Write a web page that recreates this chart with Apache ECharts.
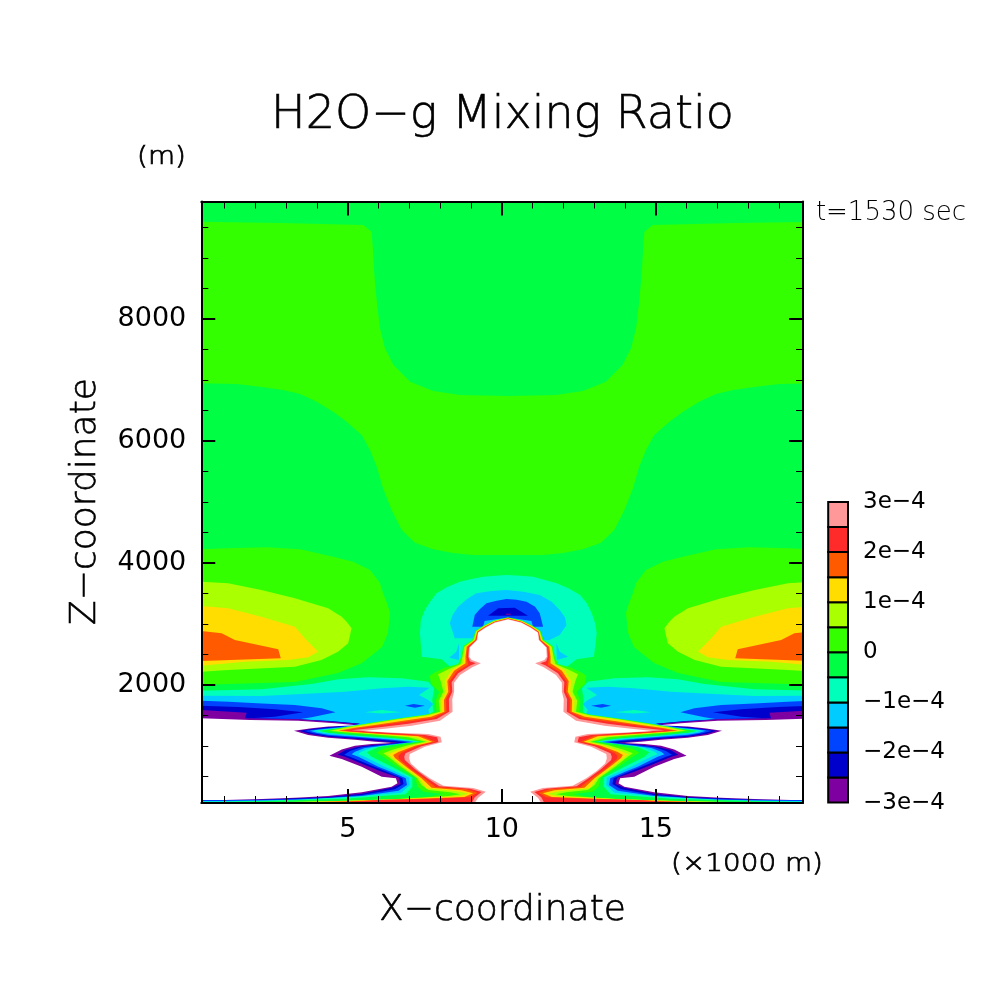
<!DOCTYPE html>
<html><head><meta charset="utf-8"><style>html,body{margin:0;padding:0;background:#fff}#c{width:1004px;height:1004px}</style>
<script src="https://cdn.jsdelivr.net/npm/echarts@6/dist/echarts.min.js"></script></head>
<body><div id="c"></div><script>
const xMajorTicks=[5,10,15];
const xMinorTicks=[1,2,3,4,6,7,8,9,11,12,13,14,16,17,18,19];
const zMajorTicks=[2000,4000,6000,8000];
const zMinorTicks=[500,1000,1500,2500,3000,3500,4500,5000,5500,6500,7000,7500,8500,9000,9500];
const levelEdges=[-3e-4,-2.5e-4,-2e-4,-1.5e-4,-1e-4,-0.5e-4,0,0.5e-4,1e-4,1.5e-4,2e-4,2.5e-4,3e-4];
const levelColors=['#7f00a0','#0000cc','#0044ff','#00ccff','#00ffbb','#00ff44','#33ff00','#aaff00','#ffdd00','#ff5a00','#ff2a2a','#ff9999'];
const legendTickValues=[-3e-4,-2e-4,-1e-4,0,1e-4,2e-4,3e-4];
const legendTickLabels=['−3e−4','−2e−4','−1e−4','0','1e−4','2e−4','3e−4'];

// closed regions as [x (km), z (m)]
const fieldBase=[[0.24,66],[19.78,66],[19.78,9926],[0.24,9926]];
const upperGreen=[[.24,9594],[2.80,9572],[5.50,9539],[5.77,9430],[5.81,9162],[5.86,8720],[5.94,8282],[6.04,7851],[6.20,7523],[6.48,7245],[7.02,6971],[7.77,6819],[8.64,6753],[10.20,6737],[11.76,6753],[12.63,6819],[13.38,6971],[13.92,7245],[14.20,7523],[14.36,7851],[14.46,8282],[14.54,8720],[14.59,9162],[14.63,9430],[14.90,9539],[17.60,9572],[20.16,9594],[20.16,6945],[19.01,6933],[18.25,6889],[17.51,6835],[16.95,6769],[16.41,6643],[15.88,6479],[15.44,6315],[14.95,6098],[14.68,5852],[14.46,5578],[14.26,5229],[13.98,4868],[13.65,4540],[13.22,4332],[12.63,4224],[11.99,4164],[11.34,4131],[10.62,4131],[10.20,4131],[9.78,4131],[9.06,4131],[8.41,4164],[7.77,4224],[7.18,4332],[6.75,4540],[6.42,4868],[6.14,5229],[5.94,5578],[5.72,5852],[5.45,6098],[4.96,6315],[4.52,6479],[3.99,6643],[3.45,6769],[2.89,6835],[2.15,6889],[1.39,6933],[.24,6945]];
const blobGreenL=[[.24,4224],[1.06,4240],[2.36,4257],[3.45,4224],[4.52,4103],[5.17,4021],[5.72,3885],[6.04,3672],[6.14,3508],[6.27,3344],[6.37,3180],[6.30,2852],[6.11,2623],[5.46,2361],[4.68,2197],[3.28,2049],[1.11,2016],[.24,2000]];
const blobGreenR=[[20.16,4224],[19.34,4240],[18.04,4257],[16.95,4224],[15.88,4103],[15.23,4021],[14.68,3885],[14.36,3672],[14.26,3508],[14.13,3344],[14.03,3180],[14.10,2852],[14.29,2623],[14.94,2361],[15.72,2197],[17.12,2049],[19.29,2016],[20.16,2000]];
const blobLimeL=[[.24,3694],[1.11,3667],[2.19,3557],[3.28,3421],[4.36,3257],[4.80,3120],[4.96,3038],[5.12,2929],[5.01,2683],[4.68,2547],[4.14,2410],[3.28,2301],[1.11,2246],[.24,2219]];
const blobLimeR=[[20.16,3694],[19.29,3667],[18.21,3557],[17.12,3421],[16.04,3257],[15.60,3120],[15.44,3038],[15.28,2929],[15.39,2683],[15.72,2547],[16.26,2410],[17.12,2301],[19.29,2246],[20.16,2219]];
const blobYellowL=[[.24,3295],[1.11,3257],[2.19,3120],[3.28,2956],[3.60,2765],[4.03,2547],[3.71,2454],[3.06,2410],[1.65,2383],[.24,2317]];
const blobYellowR=[[20.16,3295],[19.29,3257],[18.21,3120],[17.12,2956],[16.80,2765],[16.37,2547],[16.69,2454],[17.34,2410],[18.75,2383],[20.16,2317]];
const blobOrangeL=[[.24,2885],[.90,2847],[1.33,2738],[2.74,2585],[2.82,2437],[.24,2394]];
const blobOrangeR=[[20.16,2885],[19.50,2847],[19.07,2738],[17.66,2585],[17.58,2437],[20.16,2394]];
const domeAqua=[[7.40,2464],[7.34,2847],[7.37,3065],[7.50,3229],[7.67,3366],[7.88,3503],[8.21,3601],[8.64,3694],[9.02,3738],[9.40,3776],[9.78,3792],[10.16,3803],[10.59,3792],[11.02,3776],[11.40,3721],[11.78,3667],[12.16,3585],[12.54,3475],[12.76,3339],[12.92,3175],[13.03,3011],[13.08,2847],[12.99,2464],[12.43,2421],[12.11,2301],[11.78,2192],[8.64,2192],[8.32,2301],[8.05,2421]];
const domeSky=[[8.47,2765],[8.31,3011],[8.40,3147],[8.58,3284],[8.86,3404],[9.17,3503],[9.67,3541],[10.15,3557],[10.70,3530],[11.23,3475],[11.62,3366],[11.88,3230],[12.05,3109],[12.10,2984],[11.88,2820],[11.55,2738],[10.2,2738],[9.01,2765]];
const domeSkyLobeL=[[8.61,2683],[8.61,2410],[8.29,2448],[8.52,2547]];
const domeSkyLobeR=[[11.77,2683],[11.79,2410],[12.15,2465],[11.88,2547]];
const domeBlue=[[9.04,2956],[9.12,3148],[9.29,3246],[9.50,3339],[9.83,3382],[10.15,3410],[10.48,3399],[10.80,3366],[11.08,3284],[11.23,3175],[11.34,2956],[11.01,2956],[10.96,3049],[10.36,3093],[10.04,3093],[9.44,3049],[9.39,2956]];
const domeDark=[[9.55,3137],[9.88,3257],[10.42,3268],[10.85,3137]];
const domePurple=[[10.13,3169],[10.29,3169],[10.29,3153],[10.13,3153]];
const lensBlueL=[[6.85,1661],[7.13,1688],[7.50,1661],[7.18,1628]];
const lensBlueR=[[13.55,1661],[13.27,1688],[12.90,1661],[13.22,1628]];
const lensAquaL=[[5.55,1552],[6.10,1590],[6.74,1552],[6.10,1535]];
const lensAquaR=[[14.85,1552],[14.30,1590],[13.66,1552],[14.30,1535]];

// contour paths as [x on left side (km), x on right side (km), z (m)]
const pathAqua=[[.24,20.16,1907],[2.20,18.20,1929],[3.82,16.58,2016],[4.69,15.71,2093],[5.66,14.74,2126],[6.74,13.66,2109],[7.61,12.79,2055],[7.80,12.60,1945],[7.74,12.66,1754],[7.77,12.63,1563],[7.61,12.79,1481],[6.74,13.66,1426],[5.88,14.52,1372],[5.12,15.28,1317],[4.07,16.33,1251],[4.36,16.04,1213],[5.45,14.95,1164],[6.53,13.87,1126],[7.34,13.06,1077],[6.53,13.87,1027],[5.99,14.41,984],[5.61,14.79,896],[5.77,14.63,825],[6.42,13.98,661],[7.09,13.31,486],[7.09,13.31,333],[6.87,13.53,208],[4.90,15.50,137],[2.20,18.20,93],[.24,20.16,77]];
const pathSky=[[.24,20.16,1825],[2.20,18.20,1820],[3.82,16.58,1863],[4.90,15.50,1891],[6.10,14.30,1945],[6.96,13.44,1973],[7.66,12.74,1956],[7.31,13.09,1836],[7.61,12.79,1754],[7.77,12.63,1689],[7.61,12.79,1590],[7.66,12.74,1525],[6.74,13.66,1459],[5.88,14.52,1394],[5.50,14.90,1355],[4.80,15.60,1301],[4.25,16.15,1273],[3.91,16.49,1251],[4.20,16.20,1219],[4.80,15.60,1191],[5.45,14.95,1153],[6.53,13.87,1115],[7.23,13.17,1071],[6.31,14.09,1016],[5.77,14.63,973],[5.42,14.98,902],[5.34,15.06,864],[5.55,14.85,825],[6.20,14.20,661],[6.64,13.76,563],[6.99,13.41,486],[7.01,13.39,361],[6.74,13.66,235],[4.90,15.50,159],[2.20,18.20,104],[.68,19.72,90],[.24,20.16,90]];
const pathBlue=[[.24,20.16,1743],[1.12,19.28,1727],[2.20,18.20,1699],[3.28,17.12,1672],[4.15,16.25,1618],[4.60,15.80,1552],[3.82,16.58,1470],[3.41,16.99,1437],[4.36,16.04,1415],[5.42,14.98,1366],[4.80,15.60,1306],[4.15,16.25,1273],[3.77,16.63,1251],[3.98,16.42,1219],[4.36,16.04,1186],[5.45,14.95,1142],[6.53,13.87,1098],[7.12,13.28,1066],[6.10,14.30,1006],[5.55,14.85,967],[5.23,15.17,907],[5.12,15.28,864],[5.34,15.06,825],[5.99,14.41,661],[6.42,13.98,574],[6.88,13.52,470],[6.92,13.48,361],[6.64,13.76,268],[5.45,14.95,181],[3.28,17.12,120],[1.01,19.39,99],[.24,20.16,99]];
const pathDark=[[.24,20.16,1661],[1.44,18.96,1639],[2.63,17.77,1601],[3.55,16.85,1552],[2.63,17.77,1481],[1.87,18.53,1454],[3.28,17.12,1443],[4.58,15.82,1404],[5.39,15.01,1366],[4.69,15.71,1312],[4.04,16.36,1279],[3.58,16.82,1251],[3.88,16.52,1208],[4.36,16.04,1169],[5.45,14.95,1126],[6.53,13.87,1082],[6.91,13.49,1060],[5.99,14.41,1011],[5.45,14.95,978],[5.07,15.33,918],[4.88,15.52,858],[5.07,15.33,825],[5.72,14.68,689],[6.26,14.14,579],[6.77,13.63,470],[6.81,13.59,377],[6.53,13.87,290],[5.45,14.95,197],[4.36,16.04,153],[3.28,17.12,131],[2.20,18.20,120],[1.01,19.39,115],[.24,20.16,115]];
const pathPurple=[[.24,20.16,1590],[1.71,18.69,1547],[1.66,18.74,1454],[3.39,17.01,1437],[4.58,15.82,1394],[5.36,15.04,1361],[4.36,16.04,1312],[3.88,16.52,1284],[3.41,16.99,1251],[3.77,16.63,1197],[4.36,16.04,1153],[5.23,15.17,1120],[5.88,14.52,1087],[6.64,13.76,1055],[5.88,14.52,1022],[5.34,15.06,989],[4.90,15.50,929],[4.67,15.73,858],[4.90,15.50,825],[5.55,14.85,689],[6.10,14.30,579],[6.66,13.74,481],[6.71,13.69,377],[6.42,13.98,317],[5.45,14.95,219],[4.36,16.04,164],[3.28,17.12,142],[2.20,18.20,125],[1.01,19.39,115],[.24,20.16,115]];
const pathOuterWhite=[[.24,20.16,1454],[1.82,18.58,1426],[3.39,17.01,1415],[4.58,15.82,1372],[5.28,15.12,1339],[4.36,16.04,1322],[3.82,16.58,1290],[3.25,17.15,1251],[3.71,16.69,1180],[4.36,16.04,1137],[5.23,15.17,1104],[5.88,14.52,1071],[6.42,13.98,1049],[5.77,14.63,1033],[5.23,15.17,1006],[4.80,15.60,945],[4.40,16.00,842],[4.80,15.60,787],[5.45,14.95,661],[6.10,14.30,497],[6.56,13.84,470],[6.61,13.79,388],[6.42,13.98,333],[5.45,14.95,241],[4.36,16.04,181],[3.28,17.12,153],[2.20,18.20,131],[1.01,19.39,115],[.24,20.16,115]];
const hillGreen=[[10.20,10.20,3109],[9.73,10.67,3055],[9.40,11.00,2973],[9.15,11.25,2891],[9.04,11.36,2738],[8.75,11.65,2639],[8.68,11.72,2464],[8.58,11.82,2344],[8.15,12.25,2284],[7.83,12.57,2208],[7.66,12.74,2153],[7.70,12.70,2016],[7.97,12.43,1891],[7.85,12.55,1743],[7.88,12.52,1563],[7.52,12.88,1514],[6.58,13.82,1448],[5.72,14.68,1377],[4.90,15.50,1306],[4.28,16.12,1251],[4.80,15.60,1219],[5.66,14.74,1180],[6.74,13.66,1126],[7.44,12.96,1071],[6.77,13.63,1016],[6.15,14.25,956],[5.93,14.47,891],[6.15,14.25,825],[6.53,13.87,689],[7.18,13.22,486],[7.26,13.14,333],[7.45,12.95,251],[8.10,12.30,213],[7.61,12.79,170],[5.99,14.41,120],[3.82,16.58,88],[2.09,18.31,77],[2.09,18.31,66]];
const hillLime=[[10.20,10.20,3104],[9.74,10.66,3049],[9.42,10.98,2967],[9.17,11.23,2885],[9.08,11.32,2738],[8.78,11.62,2628],[8.72,11.68,2464],[8.66,11.74,2344],[8.26,12.14,2257],[7.93,12.47,2175],[8.02,12.38,2055],[8.10,12.30,1891],[7.95,12.45,1743],[7.99,12.41,1563],[7.57,12.83,1508],[6.64,13.76,1443],[5.77,14.63,1372],[4.96,15.44,1306],[4.42,15.98,1251],[4.90,15.50,1224],[5.77,14.63,1191],[6.96,13.44,1142],[7.52,12.88,1071],[6.94,13.46,1011],[6.42,13.98,934],[6.15,14.25,880],[6.31,14.09,825],[6.69,13.71,672],[7.25,13.15,470],[7.39,13.01,361],[7.61,12.79,279],[8.31,12.09,241],[8.64,11.76,208],[8.26,12.14,181],[6.53,13.87,126],[4.36,16.04,93],[2.52,17.88,77],[2.52,17.88,66]];
const hillYellow=[[10.20,10.20,3098],[9.75,10.65,3044],[9.43,10.97,2962],[9.19,11.21,2880],[9.11,11.29,2738],[8.82,11.58,2628],[8.78,11.62,2464],[8.75,11.65,2355],[8.37,12.03,2246],[8.15,12.25,2071],[8.18,12.22,1891],[8.04,12.36,1743],[8.06,12.34,1563],[7.61,12.79,1498],[6.69,13.71,1437],[5.82,14.58,1366],[5.07,15.33,1301],[4.56,15.84,1251],[5.01,15.39,1230],[5.88,14.52,1197],[7.18,13.22,1148],[7.63,12.77,1071],[7.07,13.33,1006],[6.53,13.87,913],[6.31,14.09,864],[6.42,13.98,814],[6.80,13.60,661],[7.32,13.08,470],[7.55,12.85,306],[8.53,11.87,257],[8.91,11.49,219],[8.58,11.82,175],[6.74,13.66,131],[4.90,15.50,99],[3.06,17.34,77],[3.06,17.34,66]];
const hillOrange=[[10.20,10.20,3093],[9.76,10.64,3038],[9.44,10.96,2956],[9.20,11.20,2874],[9.13,11.27,2738],[8.86,11.54,2628],[8.82,11.58,2464],[8.82,11.58,2355],[8.45,11.95,2235],[8.23,12.17,2066],[8.26,12.14,1891],[8.12,12.28,1754],[8.13,12.27,1563],[7.70,12.70,1481],[6.80,13.60,1415],[5.93,14.47,1350],[5.17,15.23,1295],[4.69,15.71,1251],[5.12,15.28,1235],[5.99,14.41,1202],[7.28,13.12,1159],[7.74,12.66,1071],[7.18,13.22,1006],[6.64,13.76,902],[6.47,13.93,853],[6.53,13.87,803],[6.91,13.49,650],[7.39,13.01,470],[7.72,12.68,317],[8.69,11.71,273],[9.07,11.33,224],[8.78,11.62,164],[7.07,13.33,131],[5.45,14.95,104],[3.82,16.58,77],[3.82,16.58,66]];
const hillRed=[[10.20,10.20,3087],[9.76,10.64,3033],[9.45,10.95,2951],[9.21,11.19,2869],[9.16,11.24,2738],[8.90,11.50,2623],[8.86,11.54,2464],[8.89,11.51,2377],[8.91,11.49,2333],[8.53,11.87,2219],[8.29,12.11,2055],[8.32,12.08,1891],[8.19,12.21,1765],[8.20,12.20,1563],[7.78,12.62,1459],[6.85,13.55,1394],[6.04,14.36,1339],[5.34,15.06,1290],[4.85,15.55,1251],[5.23,15.17,1235],[6.20,14.20,1202],[7.39,13.01,1169],[7.85,12.55,1071],[7.28,13.12,1006],[6.74,13.66,891],[6.64,13.76,842],[6.66,13.74,792],[7.01,13.39,634],[7.48,12.92,470],[7.85,12.55,328],[8.85,11.55,290],[9.21,11.19,235],[8.96,11.44,159],[7.61,12.79,131],[5.99,14.41,115],[4.90,15.50,77],[4.90,15.50,66]];
const hillPink=[[10.20,10.20,3082],[9.77,10.63,3027],[9.46,10.94,2945],[9.22,11.18,2863],[9.18,11.22,2738],[8.93,11.47,2617],[8.91,11.49,2464],[8.96,11.44,2388],[9.15,11.25,2355],[8.96,11.44,2317],[8.58,11.82,2191],[8.37,12.03,2044],[8.39,12.01,1891],[8.28,12.12,1765],[8.29,12.11,1563],[7.88,12.52,1443],[6.96,13.44,1366],[6.10,14.30,1312],[5.12,15.28,1257],[6.42,13.98,1213],[7.50,12.90,1180],[7.90,12.50,1142],[7.94,12.46,1066],[7.39,13.01,995],[6.87,13.53,880],[6.83,13.57,825],[6.85,13.55,771],[7.18,13.22,618],[7.58,12.82,470],[7.97,12.43,339],[8.96,11.44,301],[9.34,11.06,246],[9.12,11.28,159],[9.02,11.38,66]];
const hillWhite=[[10.20,10.20,3076],[9.77,10.63,3022],[9.47,10.93,2940],[9.23,11.17,2858],[9.20,11.20,2738],[8.96,11.44,2617],[8.94,11.46,2464],[9.02,11.38,2410],[9.32,11.08,2355],[9.04,11.36,2290],[8.64,11.76,2164],[8.45,11.95,2038],[8.45,11.95,1891],[8.39,12.01,1765],[8.40,12.00,1563],[7.99,12.41,1415],[7.07,13.33,1333],[6.20,14.20,1284],[5.50,14.90,1246],[6.53,13.87,1219],[7.61,12.79,1197],[8.01,12.39,1153],[8.05,12.35,1060],[7.50,12.90,989],[7.01,13.39,869],[6.99,13.41,798],[7.04,13.36,716],[7.31,13.09,596],[7.66,12.74,470],[8.10,12.30,350],[9.07,11.33,312],[9.48,10.92,251],[9.23,11.17,153],[9.12,11.28,66]];

const C={purple:levelColors[0],dark:levelColors[1],blue:levelColors[2],sky:levelColors[3],aqua:levelColors[4],spring:levelColors[5],green:levelColors[6],lime:levelColors[7],yellow:levelColors[8],orange:levelColors[9],red:levelColors[10],pink:levelColors[11],white:'#ffffff'};
const left=p=>p.map(r=>[r[0],r[2]]);
const right=p=>p.map(r=>[r[1],r[2]]);
const closed=p=>left(p).concat(right(p).reverse());
const regions=[
 [fieldBase,C.spring],[upperGreen,C.green],
 [blobGreenL,C.green],[blobGreenR,C.green],[blobLimeL,C.lime],[blobLimeR,C.lime],[blobYellowL,C.yellow],[blobYellowR,C.yellow],[blobOrangeL,C.orange],[blobOrangeR,C.orange],
 [domeAqua,C.aqua],[domeSky,C.sky],[domeSkyLobeL,C.sky],[domeSkyLobeR,C.sky],[domeBlue,C.blue],[domeDark,C.dark],[domePurple,C.purple]
];
[[pathAqua,C.aqua],[pathSky,C.sky]].forEach(([p,c])=>{regions.push([left(p),c],[right(p),c]);});
regions.push([lensAquaL,C.aqua],[lensAquaR,C.aqua]);
[[pathBlue,C.blue],[pathDark,C.dark],[pathPurple,C.purple],[pathOuterWhite,C.white]].forEach(([p,c])=>{regions.push([left(p),c],[right(p),c]);});
regions.push([lensBlueL,C.blue],[lensBlueR,C.blue]);
[[hillGreen,C.green],[hillLime,C.lime],[hillYellow,C.yellow],[hillOrange,C.orange],[hillRed,C.red],[hillPink,C.pink],[hillWhite,C.white]].forEach(([p,c])=>{regions.push([closed(p),c]);});

const FF='DejaVu Sans';
const base={show:true,lineStyle:{color:'#000',width:2}};
function xAx(pos,major){return {type:'value',gridIndex:0,position:pos,min:0.24,max:19.78,z:10,
 axisLine:major?base:{show:false},splitLine:{show:false},
 axisTick:{show:true,inside:true,length:major?14:7,lineStyle:{color:'#000',width:major?2:1},customValues:major?xMajorTicks:xMinorTicks},
 axisLabel:(major&&pos==='bottom')?{show:true,customValues:xMajorTicks,color:'#000',fontFamily:FF,fontSize:27,margin:13,formatter:v=>String(v)}:{show:false}};}
function zAx(pos,major){return {type:'value',gridIndex:0,position:pos,min:66,max:9926,z:10,
 axisLine:major?base:{show:false},splitLine:{show:false},
 axisTick:{show:true,inside:true,length:major?14:7,lineStyle:{color:'#000',width:major?2:1},customValues:major?zMajorTicks:zMinorTicks},
 axisLabel:(major&&pos==='left')?{show:true,customValues:zMajorTicks,color:'#000',fontFamily:FF,fontSize:27,margin:15,padding:[4,0,0,0],formatter:v=>String(v)}:{show:false}};}
const text=(t,x,y,size,o={})=>({type:'text',x,y,rotation:o.rot||0,scaleX:o.sx||1,silent:true,z:20,style:{text:t,fill:'#000',stroke:o.s?'#000':null,lineWidth:o.s||0,font:(o.w||'normal')+' '+size+'px "'+FF+'"',align:'center',verticalAlign:'middle'}});

const chart=echarts.init(document.getElementById('c'),null,{renderer:'canvas',width:1004,height:1004});
chart.setOption({
 animation:false,backgroundColor:'#fff',
 grid:[{left:201.3,top:201.5,width:601.7,height:601.5,containLabel:false},{left:828.2,top:502,width:19.8,height:300.6}],
 xAxis:[xAx('bottom',true),xAx('bottom',false),xAx('top',true),xAx('top',false),
  {type:'value',gridIndex:1,min:0,max:1,show:false}],
 yAxis:[zAx('left',true),zAx('left',false),zAx('right',true),zAx('right',false),
  {type:'value',gridIndex:1,position:'right',min:-3e-4,max:3e-4,z:10,axisLine:{show:false},axisTick:{show:false},splitLine:{show:false},
   axisLabel:{show:true,customValues:legendTickValues,color:'#000',fontFamily:FF,fontSize:23,margin:15,align:'left',padding:[4,0,0,0],formatter:v=>legendTickLabels[legendTickValues.indexOf(v)]}}],
 graphic:{elements:[
  text('H2O−g Mixing Ratio',502.5,116,46,{w:200,s:0.6}),
  text('(m)',161.5,158,24,{sx:1.16,w:200,s:0.7}),
  text('t=1530 sec',891,213,26,{w:200}),
  text('(×1000 m)',747,865,24,{w:200,sx:1.16,s:0.7}),
  text('X−coordinate',502.5,911,36,{w:200,s:0.6}),
  text('Z−coordinate',86,501.5,36,{w:200,rot:Math.PI/2,s:0.6})
 ]},
 series:[
  {type:'custom',coordinateSystem:'cartesian2d',xAxisIndex:0,yAxisIndex:0,clip:true,silent:true,
   data:regions.map((r,i)=>[i]),
   renderItem:(p,api)=>{const r=regions[p.dataIndex];return {type:'polygon',shape:{points:r[0].map(q=>api.coord(q))},style:{fill:r[1],stroke:null}};}},
  {type:'custom',coordinateSystem:'cartesian2d',xAxisIndex:4,yAxisIndex:4,silent:true,clip:false,
   data:levelColors.map((c,i)=>[i]),
   renderItem:(p,api)=>{const i=p.dataIndex,a=api.coord([0,levelEdges[i]]),b=api.coord([1,levelEdges[i+1]]);
    return {type:'rect',shape:{x:a[0],y:b[1],width:b[0]-a[0],height:a[1]-b[1]},style:{fill:levelColors[i],stroke:'#000',lineWidth:2}};}}
 ]
});
</script></body></html>
